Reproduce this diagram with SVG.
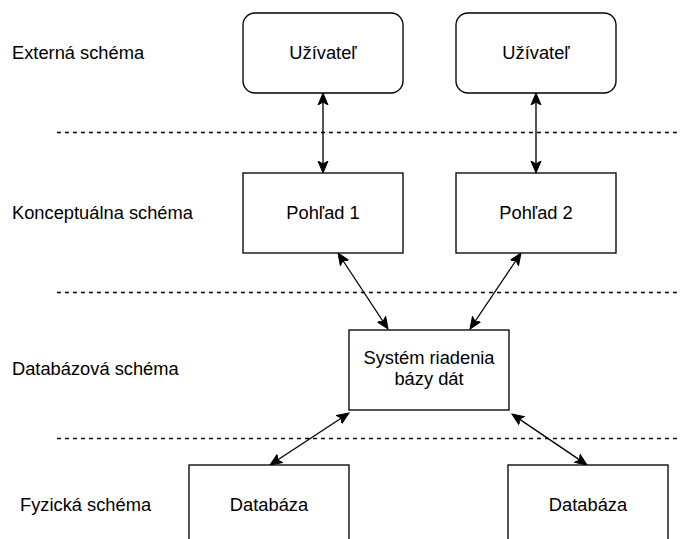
<svg xmlns="http://www.w3.org/2000/svg" width="680" height="539" viewBox="0 0 680 539">
  <style>
    .box { fill: #ffffff; stroke: #000000; stroke-width: 1.33; }
    .txt { font-family: "Liberation Sans", Arial, Helvetica, sans-serif; font-size: 18.3px; fill: #000000; }
    .mid { text-anchor: middle; }
    .sep { stroke: #000000; stroke-width: 1.33; stroke-dasharray: 4 4; fill: none; }
    .edge { stroke: #000000; stroke-width: 1.33; fill: none; marker-start: url(#arrow); marker-end: url(#arrow); }
  </style>
  <defs>
    <!-- classic arrowhead; reference point at the notch so the line stops inside the head -->
    <marker id="arrow" viewBox="0 -6 13 12" refX="3" refY="0" markerWidth="13" markerHeight="12"
            markerUnits="userSpaceOnUse" orient="auto-start-reverse">
      <path d="M12,0 L0,-5 L3,0 L0,5 Z" fill="#000000" stroke="#000000" stroke-width="1"/>
    </marker>
  </defs>
  <rect width="680" height="539" fill="#ffffff"/>

  <!-- level labels -->
  <g id="labels" class="txt">
    <text x="12" y="59">Externá schéma</text>
    <text x="12" y="219">Konceptuálna schéma</text>
    <text x="12" y="375">Databázová schéma</text>
    <text x="20" y="511">Fyzická schéma</text>
  </g>

  <!-- level separators -->
  <g id="separators">
    <line class="sep" x1="57" y1="132.5" x2="680" y2="132.5"/>
    <line class="sep" x1="57" y1="292.5" x2="680" y2="292.5"/>
    <line class="sep" x1="57" y1="438.5" x2="680" y2="438.5"/>
  </g>

  <!-- connectors -->
  <g id="connectors">
    <line class="edge" x1="323" y1="102" x2="323" y2="164"/>
    <line class="edge" x1="536" y1="102" x2="536" y2="164"/>
    <line class="edge" x1="342.9" y1="260.5" x2="383.1" y2="321.5"/>
    <line class="edge" x1="516.0" y1="260.5" x2="475.0" y2="321.5"/>
    <line class="edge" x1="341.5" y1="418" x2="277.5" y2="460"/>
    <line class="edge" x1="519.4" y1="419.1" x2="579.6" y2="459.9"/>
  </g>

  <!-- nodes -->
  <g id="user1">
    <rect class="box" x="243" y="13" width="160" height="80" rx="12" ry="12"/>
    <text class="txt mid" x="323" y="59">Užívateľ</text>
  </g>
  <g id="user2">
    <rect class="box" x="456" y="13" width="160" height="80" rx="12" ry="12"/>
    <text class="txt mid" x="536" y="59">Užívateľ</text>
  </g>
  <g id="view1">
    <rect class="box" x="243" y="173" width="160" height="80"/>
    <text class="txt mid" x="323" y="219">Pohľad 1</text>
  </g>
  <g id="view2">
    <rect class="box" x="456" y="173" width="160" height="80"/>
    <text class="txt mid" x="536" y="219">Pohľad 2</text>
  </g>
  <g id="dbms">
    <rect class="box" x="349" y="330" width="160" height="80"/>
    <text class="txt mid" x="429" y="364">Systém riadenia</text>
    <text class="txt mid" x="429" y="385">bázy dát</text>
  </g>
  <g id="db1">
    <rect class="box" x="189" y="465" width="160" height="80"/>
    <text class="txt mid" x="269" y="511">Databáza</text>
  </g>
  <g id="db2">
    <rect class="box" x="508" y="465" width="160" height="80"/>
    <text class="txt mid" x="588" y="511">Databáza</text>
  </g>
</svg>
